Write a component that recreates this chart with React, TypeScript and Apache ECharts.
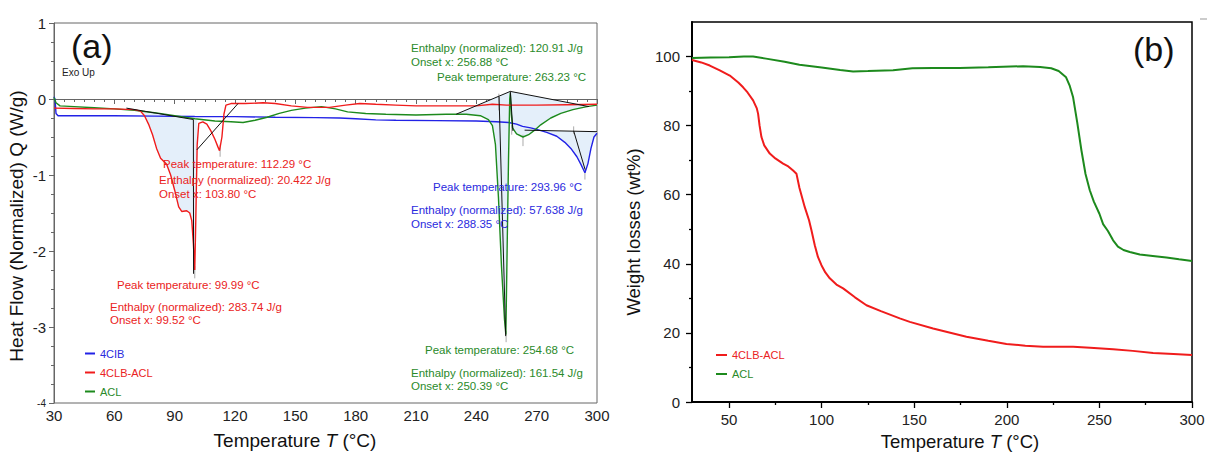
import { useEffect, useRef } from 'react';
import * as echarts from 'echarts';

type P = [number, number];

// ---------- Panel (a): DSC heat flow, W/g vs temperature (°C) ----------
const dscCIB: P[] = [
  [30, 0.03], [30.5, 0.0], [31, -0.19], [32, -0.22], [40, -0.22], [60, -0.22], [80, -0.225],
  [100, -0.23], [120, -0.232], [140, -0.24], [160, -0.245], [172, -0.25], [180, -0.26],
  [190, -0.275], [200, -0.28], [220, -0.285], [240, -0.29], [250, -0.30], [256, -0.31],
  [260, -0.33], [263, -0.36], [267, -0.38], [270, -0.40], [275, -0.44], [280, -0.49],
  [284, -0.57], [287, -0.65], [290, -0.76], [292, -0.86], [294, -0.97], [295.5, -0.85],
  [297, -0.65], [298.5, -0.5], [300, -0.45],
];

const dscCLBACL: P[] = [
  [30, -0.12], [40, -0.125], [50, -0.13], [60, -0.13], [70, -0.14], [73, -0.16], [75, -0.22],
  [77, -0.33], [79, -0.47], [81, -0.65], [83, -0.78], [86, -0.86], [88, -1.0], [90, -1.2],
  [92, -1.42], [93.5, -1.48], [96, -1.47], [97.5, -1.5], [98.5, -1.6], [99.3, -1.9],
  [99.99, -2.25], [100.5, -1.6], [101.2, -0.6], [102, -0.32], [104, -0.3], [106, -0.33],
  [108, -0.42], [110, -0.53], [111.5, -0.63], [112.3, -0.68], [113.5, -0.5], [114.5, -0.2],
  [115.5, -0.08], [118, -0.06], [125, -0.06], [134, -0.05], [140, -0.06], [148, -0.09],
  [156, -0.11], [167, -0.11], [175, -0.08], [182, -0.06], [190, -0.07], [200, -0.08],
  [210, -0.09], [225, -0.09], [240, -0.09], [248, -0.07], [255, -0.08], [270, -0.08],
  [285, -0.075], [300, -0.07],
];

const dscACL: P[] = [
  [30, 0.02], [31, -0.05], [33, -0.09], [40, -0.1], [50, -0.115], [60, -0.13], [70, -0.15],
  [80, -0.18], [90, -0.22], [100, -0.26], [110, -0.29], [118, -0.30], [124, -0.31],
  [130, -0.28], [136, -0.24], [142, -0.19], [148, -0.15], [155, -0.12], [163, -0.10],
  [170, -0.13], [176, -0.17], [185, -0.19], [195, -0.20], [210, -0.21], [225, -0.20],
  [235, -0.20], [242, -0.22], [246, -0.27], [248, -0.35], [249.5, -0.6], [251, -1.3],
  [252.5, -2.2], [254, -2.9], [254.68, -3.1], [255.3, -2.0], [256, -0.8], [256.6, 0.0],
  [256.9, 0.08], [257.4, -0.2], [258, -0.38], [260, -0.46], [263.2, -0.5], [266, -0.47],
  [269, -0.41], [272, -0.34], [277, -0.25], [282, -0.19], [288, -0.14], [295, -0.10],
  [300, -0.08],
];

// construction lines of the peak analysis (baselines / tangents)
const constructionLines: P[][] = [
  [[66, -0.12], [99.3, -0.27]],
  [[99.3, -0.27], [99.4, -2.3]],
  [[101, -0.67], [121.5, -0.06]],
  [[230, -0.2], [256.9, 0.1], [296, -0.1]],
  [[251.3, 0.03], [254.6, -3.12]],
  [[256.9, 0.1], [258.2, -0.42]],
  [[264, -0.41], [300, -0.43]],
  [[288.4, -0.42], [294.1, -0.93]],
];

// small grey peak markers
const peakMarks: P[][] = [
  [[112.6, -0.6], [112.6, -0.76]],
  [[100, -2.2], [100, -2.36]],
  [[254.8, -3.05], [254.8, -3.2]],
  [[263.2, -0.47], [263.2, -0.62]],
  [[294, -0.95], [294, -1.06]],
  [[251.2, 0.07], [251.2, -0.15]],
  [[257.6, -0.34], [257.6, -0.47]],
  [[288.4, -0.36], [288.4, -0.46]],
];

const dscXTicks = 30;
const dscYTicks = 1;

// ---------- Panel (b): TGA weight losses (wt%) ----------
const tgaCLBACL: P[] = [
  [30, 99], [35, 98.3], [39.6, 97.4], [45, 96], [50.4, 94.5], [55, 92.5], [57.6, 91.1],
  [60, 89.6], [63, 87.3], [65, 85], [65.7, 83.4], [66.5, 80], [67.5, 76.7], [69, 74.3],
  [72, 71.9], [75, 70.5], [79.2, 69], [82, 68.2], [84.6, 67], [86.4, 66.1], [88, 62],
  [90.9, 56.4], [93.2, 52.6], [94.5, 49.7], [96.3, 45.4], [98, 42], [99.9, 39.6],
  [102, 37.5], [104.4, 35.8], [108, 34], [111.6, 32.9], [118, 30.3], [124.2, 28],
  [132, 26.3], [142.2, 24.2], [147.6, 23.2], [160.2, 21.3], [170, 20], [178.2, 18.9],
  [190, 17.7], [199.8, 16.8], [210, 16.3], [219.6, 16], [235.8, 16], [245, 15.7],
  [257.4, 15.3], [268, 14.8], [279, 14.2], [290, 13.9], [300, 13.6],
];

const tgaACL: P[] = [
  [30, 99.6], [40, 99.7], [50, 99.8], [58, 100], [63, 100], [70, 99.4], [80, 98.5],
  [88, 97.6], [100, 96.8], [110, 96.1], [117, 95.7], [125, 95.8], [138.6, 96], [149, 96.6],
  [160, 96.7], [174.5, 96.7], [190, 96.9], [208.8, 97.2], [218, 97], [224, 96.6],
  [228, 95.8], [232, 94], [234, 91.5], [235.8, 88.2], [238, 81], [240.3, 72.8],
  [242.5, 66], [244.8, 61.3], [247, 58], [250, 54.5], [252, 51.5], [254.6, 49.5],
  [257.4, 46.8], [260, 45], [263, 44], [266.4, 43.4], [271.8, 42.7], [280, 42.2],
  [286.2, 41.8], [293, 41.3], [300, 40.8],
];

const tgaXLabels = [50, 100, 150, 200, 250, 300];
const tgaXMajorTicks = [50, 100, 150, 200, 250, 300];
const tgaXMinorTicks = [75, 125, 175, 225, 275];
const tgaYLabels = [0, 20, 40, 60, 80, 100];
const tgaYMajorTicks = [0, 20, 40, 60, 80, 100];
const tgaYMinorTicks = [10, 30, 50, 70, 90];

// ---------- colours & texts ----------
const C_RED = '#f01c1c';
const C_GREEN = '#1d8a1d';
const C_BLUE = '#2222e6';
const T_RED = '#ea2222';
const T_GREEN = '#2a8a2a';
const T_BLUE = '#2a2ade';
const FILL = '#e4effa';
const FONT = '"Liberation Sans", Arial, sans-serif';

const annotations: { text: string; x: number; y: number; color: string }[] = [
  { text: 'Peak temperature: 112.29 °C', x: 163, y: 164, color: T_RED },
  { text: 'Enthalpy (normalized): 20.422 J/g', x: 159, y: 180, color: T_RED },
  { text: 'Onset x: 103.80 °C', x: 159, y: 193.5, color: T_RED },
  { text: 'Peak temperature: 99.99 °C', x: 117, y: 285, color: T_RED },
  { text: 'Enthalpy (normalized): 283.74 J/g', x: 110, y: 307, color: T_RED },
  { text: 'Onset x: 99.52 °C', x: 110, y: 319.5, color: T_RED },
  { text: 'Enthalpy (normalized): 120.91 J/g', x: 411, y: 48, color: T_GREEN },
  { text: 'Onset x: 256.88 °C', x: 411, y: 61.5, color: T_GREEN },
  { text: 'Peak temperature: 263.23 °C', x: 437, y: 76.5, color: T_GREEN },
  { text: 'Peak temperature: 254.68 °C', x: 425, y: 350, color: T_GREEN },
  { text: 'Enthalpy (normalized): 161.54 J/g', x: 411, y: 372.5, color: T_GREEN },
  { text: 'Onset x: 250.39 °C', x: 411, y: 386, color: T_GREEN },
  { text: 'Peak temperature: 293.96 °C', x: 433, y: 186.5, color: T_BLUE },
  { text: 'Enthalpy (normalized): 57.638 J/g', x: 411, y: 210, color: T_BLUE },
  { text: 'Onset x: 288.35 °C', x: 411, y: 223.5, color: T_BLUE },
];

function fillSeries(points: P[], xi: number, yi: number) {
  return {
    type: 'custom',
    xAxisIndex: xi,
    yAxisIndex: yi,
    silent: true,
    z: 1,
    data: [[150, -1]],
    renderItem: (_p: any, api: any) => ({
      type: 'polygon',
      shape: { points: points.map((p) => api.coord(p)) },
      style: { fill: FILL, stroke: 'none' },
    }),
  };
}

function lineSeries(name: string, data: P[], color: string, width: number, xi: number, yi: number, z = 3) {
  return {
    name,
    type: 'line',
    xAxisIndex: xi,
    yAxisIndex: yi,
    data,
    symbol: 'none',
    showSymbol: false,
    silent: true,
    z,
    itemStyle: { color },
    lineStyle: { color, width },
  };
}

function buildOption() {
  // fill polygons built from the curves and construction lines
  const redFill: P[] = [
    [73, -0.155],
    ...dscCLBACL.filter((p) => p[0] > 73 && p[0] <= 101.2),
    [101.2, -0.28],
  ];
  const greenFill: P[] = [
    [230, -0.2],
    [256.9, 0.1],
    [296, -0.1],
    ...dscACL.filter((p) => p[0] >= 230 && p[0] <= 296).reverse(),
  ];
  const blueFill: P[] = [
    [264, -0.41],
    [300, -0.43],
    ...dscCIB.filter((p) => p[0] >= 264 && p[0] <= 300).reverse(),
  ];

  const labelStyle = { fontSize: 15, color: '#222', fontFamily: FONT };

  const series: any[] = [
    fillSeries(redFill, 0, 0),
    fillSeries(greenFill, 0, 0),
    fillSeries(blueFill, 0, 0),
    lineSeries('4CIB', dscCIB, C_BLUE, 1.4, 0, 0),
    lineSeries('ACL', dscACL, C_GREEN, 1.4, 0, 0),
    lineSeries('4CLB-ACL', dscCLBACL, C_RED, 1.4, 0, 0),
    ...constructionLines.map((l) => lineSeries('', l, '#111', 1, 0, 0, 4)),
    ...peakMarks.map((l) => lineSeries('', l, '#aaa', 1, 0, 0, 2)),
    lineSeries('4CLB-ACL', tgaCLBACL, C_RED, 2, 1, 1),
    lineSeries('ACL', tgaACL, C_GREEN, 2, 1, 1),
  ];

  return {
    animation: false,
    textStyle: { fontFamily: FONT },
    grid: [
      { left: 54, top: 23, width: 543, height: 380, show: true, borderColor: '#666', borderWidth: 1, backgroundColor: 'transparent' },
      { left: 692, top: 22, width: 500, height: 380, show: true, borderColor: '#000', borderWidth: 1.5, backgroundColor: 'transparent' },
    ],
    xAxis: [
      {
        type: 'value', gridIndex: 0, min: 30, max: 300, interval: dscXTicks,
        axisLine: { show: true, lineStyle: { color: '#666', width: 1 } },
        axisTick: { show: true, length: 5, lineStyle: { color: '#666' } },
        minorTick: { show: true, splitNumber: 6, length: 3, lineStyle: { color: '#666' } },
        splitLine: { show: false },
        axisLabel: { ...labelStyle, margin: 5 },
      },
      {
        type: 'value', gridIndex: 1, position: 'bottom', min: 30, max: 300,
        axisLine: { show: true, lineStyle: { color: '#000', width: 2 } },
        axisTick: { show: true, length: 6, customValues: tgaXMajorTicks, lineStyle: { color: '#000', width: 1.3 } },
        splitLine: { show: false },
        axisLabel: { ...labelStyle, margin: 10, customValues: tgaXLabels },
      },
      {
        type: 'value', gridIndex: 1, position: 'bottom', min: 30, max: 300,
        axisLine: { show: false },
        axisTick: { show: true, length: 3, customValues: tgaXMinorTicks, lineStyle: { color: '#000', width: 1.3 } },
        splitLine: { show: false },
        axisLabel: { show: false },
      },
    ],
    yAxis: [
      {
        type: 'value', gridIndex: 0, min: -4, max: 1, interval: dscYTicks,
        axisLine: { show: true, lineStyle: { color: '#666', width: 1 } },
        axisTick: { show: true, length: 5, lineStyle: { color: '#666' } },
        minorTick: { show: true, splitNumber: 4, length: 3, lineStyle: { color: '#666' } },
        splitLine: { show: false },
        axisLabel: {
          ...labelStyle, margin: 8,
          formatter: (v: number) => (v === -4 ? '{s|-4}' : String(v)),
          rich: { s: { fontSize: 10, color: '#222', fontFamily: FONT } },
        },
      },
      {
        type: 'value', gridIndex: 1, position: 'left', min: 0, max: 110,
        axisLine: { show: true, lineStyle: { color: '#000', width: 2 } },
        axisTick: { show: true, length: 6, customValues: tgaYMajorTicks, lineStyle: { color: '#000', width: 1.3 } },
        splitLine: { show: false },
        axisLabel: { ...labelStyle, margin: 12, customValues: tgaYLabels },
      },
      {
        type: 'value', gridIndex: 1, position: 'left', min: 0, max: 110,
        axisLine: { show: false },
        axisTick: { show: true, length: 3, customValues: tgaYMinorTicks, lineStyle: { color: '#000', width: 1.3 } },
        splitLine: { show: false },
        axisLabel: { show: false },
      },
    ],
    legend: [
      {
        orient: 'vertical', left: 85, top: 348, padding: 0, itemWidth: 10, itemHeight: 2, itemGap: 8,
        icon: 'rect', selectedMode: false, textStyle: { fontSize: 11, fontFamily: FONT },
        data: [
          { name: '4CIB', textStyle: { color: T_BLUE } },
          { name: '4CLB-ACL', textStyle: { color: T_RED } },
          { name: 'ACL', textStyle: { color: T_GREEN } },
        ],
      },
      {
        orient: 'vertical', left: 716, top: 349.5, padding: 0, itemWidth: 11, itemHeight: 2, itemGap: 8,
        icon: 'rect', selectedMode: false, textStyle: { fontSize: 11, fontFamily: FONT },
        data: [
          { name: '4CLB-ACL', textStyle: { color: T_RED } },
          { name: 'ACL', textStyle: { color: T_GREEN } },
        ],
      },
    ],
    graphic: [
      ...annotations.map((a) => ({
        type: 'text', x: a.x, y: a.y, silent: true, z: 10,
        style: { text: a.text, fill: a.color, fontSize: 11.5, fontFamily: FONT, align: 'left', verticalAlign: 'middle' },
      })),
      {
        type: 'text', x: 62, y: 72.5, silent: true,
        style: { text: 'Exo Up', fill: '#222', fontSize: 10, fontFamily: FONT, align: 'left', verticalAlign: 'middle' },
      },
      {
        type: 'text', x: 71, y: 46, silent: true,
        style: { text: '(a)', fill: '#111', fontSize: 34, fontFamily: FONT, align: 'left', verticalAlign: 'middle' },
      },
      {
        type: 'text', x: 1133, y: 49, silent: true,
        style: { text: '(b)', fill: '#111', fontSize: 34, fontFamily: FONT, align: 'left', verticalAlign: 'middle' },
      },
      {
        type: 'text', x: 16, y: 226, rotation: Math.PI / 2, silent: true,
        style: { text: 'Heat Flow (Normalized) Q (W/g)', fill: '#111', fontSize: 19, fontFamily: FONT, align: 'center', verticalAlign: 'middle' },
      },
      {
        type: 'text', x: 295, y: 440, silent: true,
        style: {
          text: 'Temperature {i|T} (°C)', fill: '#111', fontSize: 19, fontFamily: FONT, align: 'center', verticalAlign: 'middle',
          rich: { i: { fontStyle: 'italic', fontSize: 19, fontFamily: FONT, fill: '#111' } },
        },
      },
      {
        type: 'text', x: 633, y: 232, rotation: Math.PI / 2, silent: true,
        style: { text: 'Weight losses (wt%)', fill: '#111', fontSize: 18.5, fontFamily: FONT, align: 'center', verticalAlign: 'middle' },
      },
      {
        type: 'text', x: 960, y: 441, silent: true,
        style: {
          text: 'Temperature {i|T} (°C)', fill: '#111', fontSize: 18.5, fontFamily: FONT, align: 'center', verticalAlign: 'middle',
          rich: { i: { fontStyle: 'italic', fontSize: 18.5, fontFamily: FONT, fill: '#111' } },
        },
      },
      {
        type: 'line', silent: true,
        shape: { x1: 1200, y1: 19, x2: 1207, y2: 19 },
        style: { stroke: '#999', lineWidth: 1 },
      },
    ],
    series,
  };
}

export default function App() {
  const ref = useRef<HTMLDivElement>(null);
  useEffect(() => {
    document.body.style.margin = '0';
    const chart = echarts.init(ref.current!, null, { renderer: 'svg' });
    chart.setOption(buildOption() as any);
    return () => chart.dispose();
  }, []);
  return <div ref={ref} style={{ width: 1208, height: 455 }} />;
}
